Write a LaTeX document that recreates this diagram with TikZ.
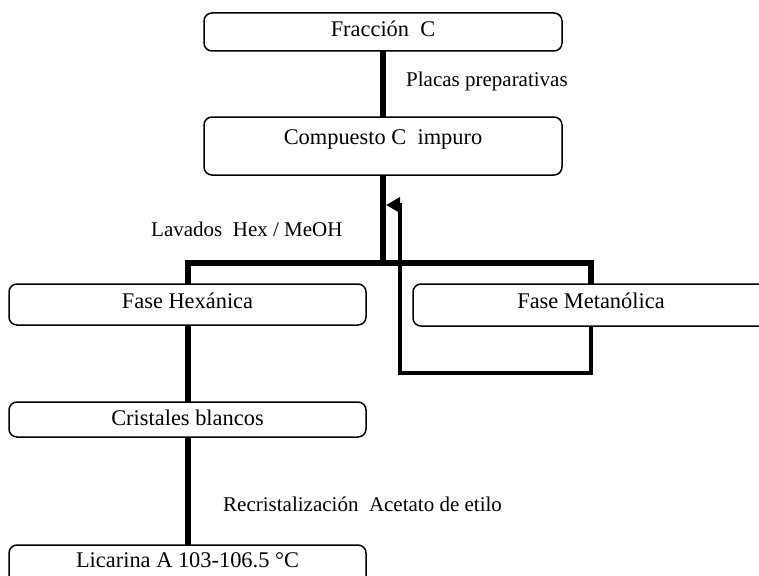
\documentclass[tikz,border=0pt]{standalone}
\usepackage{fontspec}
\setmainfont{Liberation Serif}
\usetikzlibrary{arrows.meta}

\tikzset{
  box/.style={draw, line width=1.5pt, rounded corners=8pt, inner xsep=0pt, inner ysep=0pt, outer sep=0pt, anchor=north, font=\fontsize{22.4}{27}\selectfont},
  conn/.style={line width=6pt},
  back/.style={line width=4pt, -{Triangle[length=14pt,width=15pt]}},
  lbl/.style={anchor=base west, inner sep=0pt}
}

\begin{document}
\begin{tikzpicture}[x=1pt,y=1pt,yscale=-1,xscale=1,font=\fontsize{21}{25}\selectfont]
\useasboundingbox (0,0) rectangle (759,575);

%Shape: Rounded Rect [frac]
\node[box, minimum width=358pt, text height=24pt, text depth=14pt] (frac) at (383,13) {Fracción\ \ C};
%Shape: Rounded Rect [comp]
\node[box, minimum width=358pt, text height=27pt, text depth=31pt] (comp) at (383,117) {Compuesto C\ \ impuro};
%Shape: Rounded Rect [hexa]
\node[box, minimum width=357pt, text height=24pt, text depth=17pt] (hexa) at (187.5,284) {Fase Hexánica};
%Shape: Rounded Rect [meta]
\node[box, minimum width=356pt, text height=24pt, text depth=18pt] (meta) at (591,284) {Fase Metanólica};
%Shape: Rounded Rect [cris]
\node[box, minimum width=357pt, text height=23pt, text depth=12pt] (cris) at (187.5,402) {Cristales blancos};
%Shape: Rounded Rect [lic]
\node[box, minimum width=357pt, text height=22pt, text depth=18pt] (lic) at (187.5,545) {Licarina A 103-106.5 °C};

%Straight Lines
\coordinate (split) at (383,263);
\coordinate (ret) at (386,205);
\draw[conn] (frac.south) -- (comp.north);
\draw[conn] (comp.south) -- (split);
\draw[conn] (hexa.north) |- (split) -| (meta.north);
\draw[conn] (hexa.south) -- (cris.north);
\draw[conn] (cris.south) -- (lic.north);

%Connector: return loop
\draw[back] (meta.south) -- ++(0,47) -- ++(-191,0) -- ++(0,-168) -- (ret);

% Text Node
\node[lbl] (placas) at (406,87) {Placas preparativas};
% Text Node
\node[lbl] (lavados) at (151,236) {Lavados\ \ Hex / MeOH};
% Text Node
\node[lbl] (recrist) at (223,511) {Recristalización\ \ Acetato de etilo};

\end{tikzpicture}
\end{document}
